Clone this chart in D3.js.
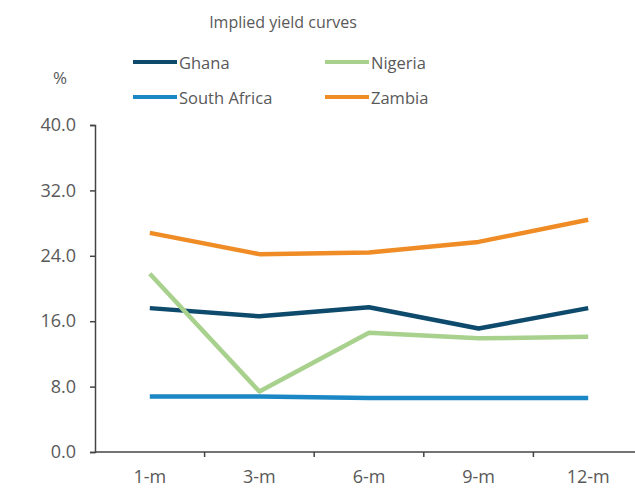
<!DOCTYPE html>
<html>
<head>
<meta charset="utf-8">
<script src="https://cdn.jsdelivr.net/npm/d3@7"></script>
<style>
  body { margin: 0; background: #fff; }
  text { font-family: "Open Sans", sans-serif; fill: #595959; }
</style>
</head>
<body>
<svg id="chart" width="635" height="495"></svg>
<script>
// tenors and yields (%)
const tenors = ["1-m", "3-m", "6-m", "9-m", "12-m"];
const ghana = [17.6, 16.6, 17.7, 15.1, 17.6];
const nigeria = [21.8, 7.4, 14.6, 13.9, 14.1];
const southAfrica = [6.8, 6.8, 6.6, 6.6, 6.6];
const zambia = [26.8, 24.2, 24.4, 25.7, 28.4];
const yTicks = [0, 8, 16, 24, 32, 40];

const series = [
  { name: "Ghana", values: ghana, color: "#0e4a6c" },
  { name: "Nigeria", values: nigeria, color: "#a9d18e" },
  { name: "South Africa", values: southAfrica, color: "#1b87c5" },
  { name: "Zambia", values: zambia, color: "#f08c25" }
];

const svg = d3.select("#chart");

const x = d3.scaleBand()
  .domain(tenors)
  .range([95, 643]);

const y = d3.scaleLinear()
  .domain([0, 40])
  .range([452, 125]);

// title
svg.append("text")
  .attr("x", 283)
  .attr("y", 28)
  .attr("text-anchor", "middle")
  .style("font-size", "16px")
  .text("Implied yield curves");

svg.append("text")
  .attr("x", 60)
  .attr("y", 84)
  .attr("text-anchor", "middle")
  .style("font-size", "17px")
  .text("%");

// legend
const legendPos = [[133, 62], [325, 62], [133, 97], [325, 97]];
series.forEach((s, i) => {
  const [lx, ly] = legendPos[i];
  svg.append("line")
    .attr("x1", lx).attr("x2", lx + 44)
    .attr("y1", ly).attr("y2", ly)
    .attr("stroke", s.color)
    .attr("stroke-width", 4);
  svg.append("text")
    .attr("x", lx + 46)
    .attr("y", ly + 7)
    .style("font-size", "16.5px")
    .text(s.name);
});

// y axis
const yAxis = svg.append("g")
  .attr("transform", "translate(95,0)")
  .call(d3.axisLeft(y).tickValues(yTicks).tickFormat(d3.format(".1f")).tickSize(5).tickPadding(14));
yAxis.select(".domain").attr("stroke", "#444").attr("stroke-width", 1.5);
yAxis.selectAll(".tick line").attr("stroke", "#444").attr("stroke-width", 1.5);
yAxis.selectAll("text").style("font-size", "18px").style("fill", "#595959").style("font-family", "'Open Sans', sans-serif");

// x axis, ticks between categories
const xAxis = svg.append("g")
  .attr("transform", "translate(0,452)");
xAxis.append("line")
  .attr("x1", 95).attr("x2", 643)
  .attr("stroke", "#444").attr("stroke-width", 1.5);
xAxis.selectAll(".sep")
  .data(tenors.slice(1))
  .enter().append("line")
  .attr("x1", d => x(d)).attr("x2", d => x(d))
  .attr("y1", 0).attr("y2", 5)
  .attr("stroke", "#444").attr("stroke-width", 1.5);
xAxis.selectAll(".lab")
  .data(tenors)
  .enter().append("text")
  .attr("x", d => x(d) + x.bandwidth() / 2)
  .attr("y", 31)
  .attr("text-anchor", "middle")
  .style("font-size", "18px")
  .text(d => d);

// lines
const line = d3.line()
  .x((d, i) => x(tenors[i]) + x.bandwidth() / 2)
  .y(d => y(d));

svg.selectAll(".series")
  .data(series)
  .enter().append("path")
  .attr("class", "series")
  .attr("d", d => line(d.values))
  .attr("fill", "none")
  .attr("stroke", d => d.color)
  .attr("stroke-width", 4.5)
  .attr("stroke-linejoin", "round");
</script>
</body>
</html>
